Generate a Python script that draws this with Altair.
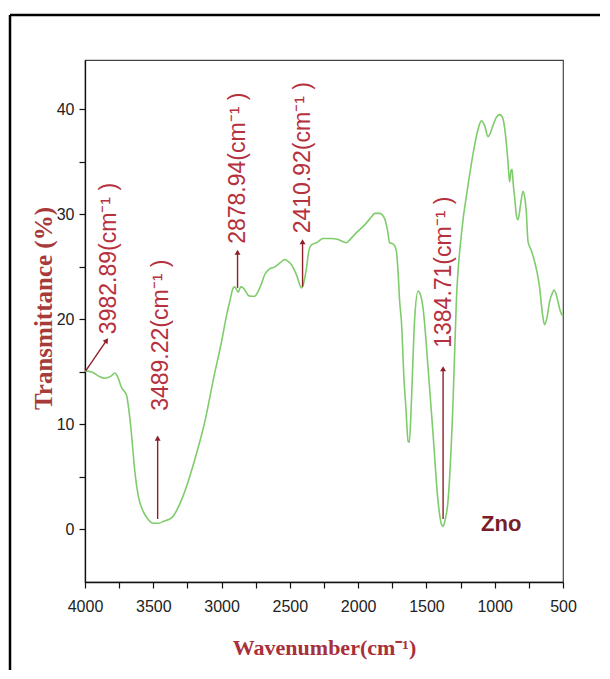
import altair as alt
import pandas as pd

# ---- data ----
wavenumber = [4000, 3950, 3900, 3854, 3810, 3781, 3760, 3732, 3696, 3680, 3659, 3635, 3610, 3573,
              3540, 3500, 3464, 3420, 3366, 3300, 3244, 3180, 3122, 3060, 3000, 2960, 2940, 2915,
              2904, 2878, 2860, 2842, 2820, 2805, 2781, 2757, 2744, 2708, 2683, 2650, 2610, 2570,
              2537, 2510, 2488, 2450, 2415, 2400, 2378, 2360, 2342, 2305, 2256, 2200, 2146, 2110,
              2086, 2060, 2025, 1952, 1900, 1879, 1842, 1806, 1785, 1769, 1745, 1732, 1720, 1708,
              1696, 1683, 1665, 1650, 1634, 1625, 1610, 1586, 1561, 1545, 1525, 1488, 1451, 1415,
              1390, 1378, 1365, 1342, 1305, 1281, 1244, 1195, 1147, 1120, 1098, 1075, 1049, 1030,
              1012, 985, 964, 945, 927, 915, 903, 891, 880, 873, 865, 854, 840, 829, 810, 793,
              780, 769, 756, 730, 708, 690, 671, 650, 635, 620, 598, 575, 566, 550, 537, 520, 500]
transmittance = [15.1, 15.0, 14.6, 14.4, 14.6, 14.9, 14.5, 13.5, 12.8, 11.5, 9.0, 5.5, 3.2, 1.7,
                 1.0, 0.6, 0.6, 0.8, 1.1, 2.6, 4.6, 7.4, 10.3, 14.3, 17.9, 20.6, 21.7, 23.0,
                 23.1, 22.6, 23.1, 23.0, 22.6, 22.3, 22.2, 22.2, 22.4, 23.4, 24.3, 24.8, 25.0, 25.4,
                 25.7, 25.5, 25.2, 24.2, 23.0, 23.4, 24.9, 26.6, 27.1, 27.3, 27.7, 27.7, 27.6, 27.4,
                 27.3, 27.6, 28.1, 29.0, 29.8, 30.1, 30.1, 29.6, 28.5, 27.3, 27.2, 27.0, 26.5, 24.6,
                 21.7, 19.8, 14.5, 11.5, 8.4, 8.3, 12.2, 20.1, 22.7, 22.4, 21.1, 15.4, 9.0, 2.7,
                 0.5, 0.3, 0.8, 2.7, 12.2, 21.7, 28.1, 32.8, 36.6, 38.2, 38.9, 38.5, 37.4, 37.8,
                 38.5, 39.3, 39.5, 39.3, 38.2, 36.8, 35.0, 33.1, 34.2, 34.3, 33.0, 31.6, 29.8, 29.5, 31.0, 32.2,
                 31.6, 30.3, 27.4, 26.5, 25.5, 24.5, 23.0, 20.5, 19.5, 20.0, 21.7, 22.6, 22.8, 22.4, 21.7, 20.8, 20.3]

peak_labels = ["3982.89(cm⁻¹ )", "3489.22(cm⁻¹ )", "2878.94(cm⁻¹ )", "2410.92(cm⁻¹ )", "1384.71(cm⁻¹ )"]
label_x = [3822, 3440, 2883, 2407, 1372]
label_y = [18.6, 11.3, 27.2, 28.2, 17.3]

arrow_x0 = [3995, 3468, 2883, 2407, 1378]
arrow_y0 = [15.1, 1.0, 23.0, 23.1, 1.0]
arrow_x1 = [3842, 3468, 2883, 2407, 1378]
arrow_y1 = [18.0, 8.7, 26.4, 27.4, 15.3]
arrow_angle = [35, 0, 0, 0, 0]

sample_name = ["Zno"]
sample_x = [952]
sample_y = [0.5]

x_ticks = [4000, 3750, 3500, 3250, 3000, 2750, 2500, 2250, 2000, 1750, 1500, 1250, 1000, 750, 500]
y_ticks = [0, 5, 10, 15, 20, 25, 30, 35, 40]

# ---- tables ----
curve = pd.DataFrame({"wn": wavenumber, "t": transmittance})
labels = pd.DataFrame({"wn": label_x, "t": label_y, "label": peak_labels})
arrows = pd.DataFrame({"wn": arrow_x0, "t": arrow_y0, "wn2": arrow_x1, "t2": arrow_y1, "ang": arrow_angle})
sample = pd.DataFrame({"wn": sample_x, "t": sample_y, "label": sample_name})

RED = "#b5313d"
DARK = "#8e1f2a"
LABEL_FONT = "Liberation Sans"

x_scale = alt.Scale(domain=[4000, 500], nice=False, zero=False)
y_scale = alt.Scale(domain=[-5, 44.7], nice=False, zero=False)

x_axis = alt.Axis(
    values=x_ticks,
    labelExpr="datum.value % 500 == 0 ? datum.value : ''",
    title="Wavenumber(cm⁻¹)",
    titleFont="Liberation Serif", titleFontSize=22, titleFontWeight="bold", titleColor="#a8303a",
    titleX=239, titleY=65, titleAlign="center", titleBaseline="middle",
    labelFont=LABEL_FONT, labelFontSize=16, labelColor="#222222", labelPadding=10,
    labelFlush=False, labelOverlap=False,
    tickSize=6, tickColor="#111111", tickWidth=1.2, domainColor="#111111", domainWidth=1.3, grid=False,
)
y_axis = alt.Axis(
    values=y_ticks,
    labelExpr="datum.value % 10 == 0 ? datum.value : ''",
    title="Transmittance (%)",
    titleFont="Liberation Serif", titleFontSize=25, titleFontWeight="bold", titleColor="#a83a3a",
    titleAngle=270, titleX=-42, titleY=248, titleAlign="center", titleBaseline="middle",
    labelFont=LABEL_FONT, labelFontSize=16, labelColor="#222222", labelPadding=5,
    labelFlush=False, labelOverlap=False,
    tickSize=6, tickColor="#111111", tickWidth=1.2, domainColor="#111111", domainWidth=1.3, grid=False,
)


def X(field):
    return alt.X(field, type="quantitative", scale=x_scale, axis=x_axis)


def Y(field):
    return alt.Y(field, type="quantitative", scale=y_scale, axis=y_axis)


line = alt.Chart(curve).mark_line(color="#7fcc6c", strokeWidth=1.6, interpolate="monotone").encode(
    x=X("wn"), y=Y("t")
)

shafts = alt.Chart(arrows).mark_rule(color=DARK, strokeWidth=1.4).encode(
    x=X("wn"), y=Y("t"), x2="wn2", y2="t2"
)

heads = alt.Chart(arrows).mark_point(shape="triangle-up", filled=True, size=35, color=DARK, opacity=1).encode(
    x=X("wn2"), y=Y("t2"), angle=alt.Angle("ang:Q", scale=None)
)

texts = alt.Chart(labels).mark_text(
    angle=270, align="left", baseline="middle", font="Liberation Sans", fontSize=23, color=RED
).encode(x=X("wn"), y=Y("t"), text="label:N")

zno = alt.Chart(sample).mark_text(
    align="center", baseline="middle", font="Liberation Sans",
    fontSize=22, fontWeight="bold", color="#7a1d28"
).encode(x=X("wn"), y=Y("t"), text="label:N")

frame_data = alt.Data(values=[{}])
frame_left = alt.Chart(frame_data).mark_rule(color="black", strokeWidth=2.5).encode(
    x=alt.value(-75), y=alt.value(-45), y2=alt.value(610)
)
frame_top = alt.Chart(frame_data).mark_rule(color="black", strokeWidth=2.5).encode(
    x=alt.value(-75), x2=alt.value(515), y=alt.value(-45)
)

chart = alt.layer(line, shafts, heads, texts, zno, frame_left, frame_top).properties(
    width=478, height=522,
    padding={"left": 0, "top": 5, "right": 0, "bottom": 0},
).configure_view(stroke="#444444", strokeWidth=1.2)

chart.save("out.html", embed_options={"renderer": "svg", "actions": False})
